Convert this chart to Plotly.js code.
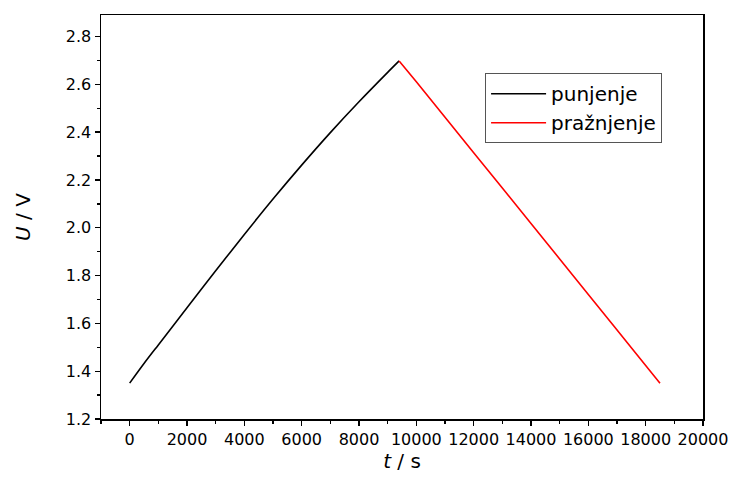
<!DOCTYPE html>
<html>
<head>
<meta charset="utf-8">
<script src="https://cdn.plot.ly/plotly-3.0.1.min.js"></script>
<style>html,body{margin:0;padding:0;background:#fff;}#chart{width:729px;height:481px;}</style>
</head>
<body>
<div id="chart"></div>
<script>
// Charging (punjenje) series
const chargeTime = [0, 500, 1000, 2000, 3000, 4000, 5000, 6000, 7000, 8000, 9000, 9400];
const chargeU    = [1.35, 1.432, 1.51, 1.665, 1.82, 1.972, 2.12, 2.262, 2.398, 2.527, 2.65, 2.698];
// Discharging (pražnjenje) series
const dischargeTime = [9400, 10000, 12000, 14000, 16000, 18000, 18500];
const dischargeU    = [2.698, 2.611, 2.314, 2.018, 1.721, 1.424, 1.35];
const seriesNames = ['punjenje', 'pražnjenje'];
const xTickVals = [0, 2000, 4000, 6000, 8000, 10000, 12000, 14000, 16000, 18000, 20000];
const yTickVals = [1.2, 1.4, 1.6, 1.8, 2.0, 2.2, 2.4, 2.6, 2.8];

const font = 'DejaVu Sans, Liberation Sans, Arial, sans-serif';

const traces = [
  {x: chargeTime, y: chargeU, name: seriesNames[0], mode: 'lines',
   line: {color: '#000000', width: 1.6, shape: 'spline', smoothing: 0.8}},
  {x: dischargeTime, y: dischargeU, name: seriesNames[1], mode: 'lines',
   line: {color: '#ff0000', width: 1.6, shape: 'spline', smoothing: 0.8}}
];

const layout = {
  width: 729, height: 481,
  margin: {l: 101, r: 26, t: 15, b: 62},
  paper_bgcolor: '#ffffff', plot_bgcolor: '#ffffff',
  font: {family: font, color: '#000', size: 16},
  showlegend: true,
  legend: {
    x: 0.638, y: 0.856, xanchor: 'left', yanchor: 'top',
    bgcolor: '#ffffff', bordercolor: '#555555', borderwidth: 1,
    font: {family: font, size: 20, color: '#000'},
    tracegroupgap: 0, itemwidth: 55
  },
  xaxis: {
    range: [-1000, 20000],
    tickvals: xTickVals,
    ticktext: xTickVals.map(String),
    tickangle: 0,
    ticks: 'outside', ticklen: 5, tickwidth: 1.3, tickcolor: '#000',
    minor: {ticks: 'outside', ticklen: 3, tickwidth: 1.3, tickcolor: '#000', dtick: 1000, tick0: 0},
    showline: true, linecolor: '#000', linewidth: 1.5, mirror: true,
    showgrid: false, zeroline: false,
    tickfont: {family: font, size: 16, color: '#000'},
    title: {text: '<i>t</i> / s', font: {family: font, size: 20, color: '#000'}, standoff: 6}
  },
  yaxis: {
    range: [1.2, 2.89],
    tickvals: yTickVals,
    ticktext: yTickVals.map(v => v.toFixed(1)),
    ticks: 'outside', ticklen: 5, tickwidth: 1.3, tickcolor: '#000',
    minor: {ticks: 'outside', ticklen: 3, tickwidth: 1.3, tickcolor: '#000', dtick: 0.1, tick0: 1.2},
    showline: true, linecolor: '#000', linewidth: 1.5, mirror: true,
    showgrid: false, zeroline: false,
    tickfont: {family: font, size: 16, color: '#000'},
    title: {text: '<i>U</i> / V', font: {family: font, size: 20, color: '#000'}, standoff: 30}
  }
};

Plotly.newPlot('chart', traces, layout, {displayModeBar: false, staticPlot: true});
</script>
</body>
</html>
